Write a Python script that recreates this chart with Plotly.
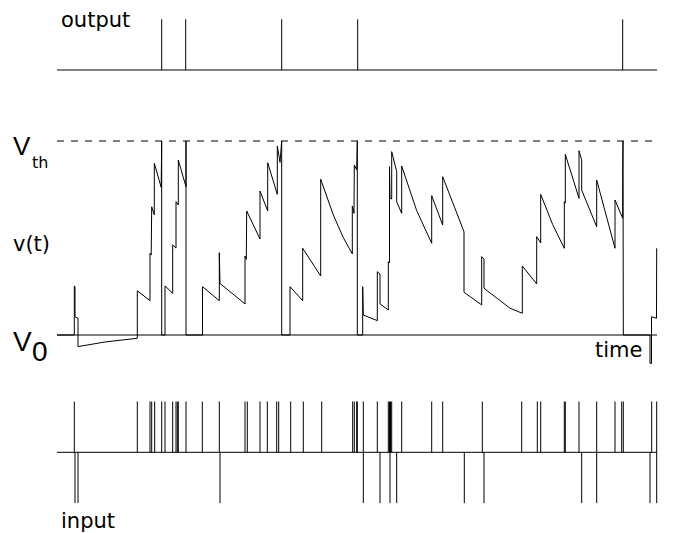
import plotly.graph_objects as go

# ---------------- data ----------------
# membrane potential trace: time (arbitrary units) and v (V0 = 0, Vth = 1)
trace_t = [0, 17.3, 17.3, 18.0, 18.0, 21.0, 21.0, 48.0, 80.3, 80.3, 93.0, 93.0, 94.2, 94.7,
           97.3, 97.3, 104.2, 104.7, 104.7, 108.0, 108.0, 115.7, 115.7, 119.0, 119.0, 121.3,
           121.3, 129.0, 129.0, 129.0, 145.5, 145.5, 162.3, 162.3, 163.0, 163.0, 188.0, 188.0,
           189.3, 189.7, 203.0, 203.0, 210.7, 210.7, 220.3, 220.3, 223.0, 224.7, 224.7, 233.0,
           233.0, 245.7, 245.7, 263.7, 263.7, 276.3, 286.3, 295.3, 295.3, 297.0, 297.3, 299.7,
           300.3, 300.3, 305.7, 305.7, 306.3, 306.3, 320.3, 320.3, 323.0, 323.0, 331.3, 331.3,
           332.5, 332.5, 333.0, 333.0, 334.7, 334.7, 339.7, 339.7, 344.7, 344.7, 359.7, 374.7,
           374.7, 385.7, 385.7, 407.0, 407.0, 424.7, 424.7, 426.3, 427.0, 427.0, 453.0, 465.3,
           465.3, 479.7, 479.7, 483.7, 483.7, 495.7, 507.3, 507.3, 508.3, 508.3, 522.0, 522.0,
           524.7, 524.7, 539.7, 539.7, 558.0, 558.0, 565.7, 565.7, 566.0, 566.3, 593.0, 593.0,
           594.5, 594.5, 599.5, 599.7]
trace_v = [0, 0, 0.253, 0.247, 0.094, 0.086, -0.060, -0.036, -0.017, 0.228, 0.177, 0.421, 0.412,
           0.661, 0.619, 0.885, 0.761, 1.0, 0, 0, 0.253, 0.215, 0.464, 0.448, 0.687, 0.670,
           0.902, 0.764, 1.0, 0, 0, 0.249, 0.177, 0.424, 0.423, 0.266, 0.160, 0.407,
           0.390, 0.639, 0.495, 0.742, 0.639, 0.888, 0.725, 0.974, 0.890, 1.0, 0, 0,
           0.249, 0.177, 0.447, 0.304, 0.803, 0.619, 0.502, 0.418, 0.665, 0.627, 0.876, 0.851,
           1.0, 0, 0, 0.249, 0.247, 0.103, 0.074, 0.326, 0.314, 0.160, 0.129, 0.378,
           0.371, 0.868, 0.861, 0.705, 0.701, 0.945, 0.842, 0.687, 0.627, 0.871, 0.641, 0.473,
           0.718, 0.567, 0.816, 0.532, 0.220, 0.155, 0.404, 0.395, 0.392, 0.241, 0.138, 0.112,
           0.356, 0.263, 0.507, 0.474, 0.725, 0.569, 0.447, 0.687, 0.680, 0.931, 0.705, 0.950,
           0.902, 0.747, 0.558, 0.799, 0.447, 0.696, 0.602, 0.851, 1.0, 0, 0, -0.146,
           -0.146, 0.094, 0.086, 0.447]

# output spike times
output_times = [104.7, 128.7, 224.7, 300.7, 565.7]

# excitatory (upward) and inhibitory (downward) input spike times
exc_times = [17.3, 80.3, 93.0, 94.7, 97.7, 104.7, 108.0, 115.7, 119.0, 120.3, 121.3, 129.0,
             145.3, 162.3, 188.0, 190.3, 203.0, 210.3, 219.7, 221.7, 233.7, 246.3, 264.7,
             295.7, 297.3, 299.7, 300.3, 306.3, 320.3, 331.3, 332.5, 333.5, 334.7, 344.7,
             374.7, 385.7, 425.3, 464.7, 480.3, 483.7, 507.3, 508.3, 522.0, 539.7, 558.0,
             564.7, 566.3, 594.7, 599.7]
inh_times = [18.0, 21.0, 163.0, 306.3, 323.0, 333.0, 339.7, 407.3, 427.0, 524.7, 539.7,
             593.0, 599.7]

T_START, T_END = 0, 600
V0, VTH = 0, 1

# ---------------- layout geometry (pixels) ----------------
W, H = 675, 533
X0_PX = 57           # pixel of t = 0 (1 px per time unit)
V0_PX, VTH_PX = 335, 141
OUT_BASE_PX, OUT_TOP_PX = 70, 19.3
IN_BASE_PX, IN_UNIT_PX = 452.3, 50.8


def yrange(base_px, unit_px):
    return [-(H - base_px) / unit_px, base_px / unit_px]


def spikes(times, height):
    xs, ys = [], []
    for t in times:
        xs += [t, t, None]
        ys += [0, height, None]
    return xs, ys


line = dict(color="black", width=1)
fig = go.Figure()

# output panel
fig.add_trace(go.Scatter(x=[T_START, T_END], y=[0, 0], mode="lines", line=line, yaxis="y2"))
ox, oy = spikes(output_times, 1)
fig.add_trace(go.Scatter(x=ox, y=oy, mode="lines", line=line, yaxis="y2"))

# voltage panel
fig.add_trace(go.Scatter(x=[T_START, T_END], y=[VTH, VTH], mode="lines",
                         line=dict(color="black", width=1, dash="7px,7px")))
fig.add_trace(go.Scatter(x=[T_START, T_END], y=[V0, V0], mode="lines", line=line))
fig.add_trace(go.Scatter(x=trace_t, y=trace_v, mode="lines", line=line))

# input panel
fig.add_trace(go.Scatter(x=[T_START, T_END], y=[0, 0], mode="lines", line=line, yaxis="y3"))
ex, ey = spikes(exc_times, 1)
fig.add_trace(go.Scatter(x=ex, y=ey, mode="lines", line=line, yaxis="y3"))
ix, iy = spikes(inh_times, -1)
fig.add_trace(go.Scatter(x=ix, y=iy, mode="lines", line=line, yaxis="y3"))

fig.update_traces(hoverinfo="skip", showlegend=False)

ax = dict(visible=False, domain=[0, 1], fixedrange=True)
fig.update_layout(
    width=W, height=H,
    margin=dict(l=0, r=0, t=0, b=0),
    paper_bgcolor="white", plot_bgcolor="white",
    xaxis=dict(ax, range=[-X0_PX, W - X0_PX]),
    yaxis=dict(ax, range=yrange(V0_PX, V0_PX - VTH_PX)),
    yaxis2=dict(ax, range=yrange(OUT_BASE_PX, OUT_BASE_PX - OUT_TOP_PX), overlaying="y"),
    yaxis3=dict(ax, range=yrange(IN_BASE_PX, IN_UNIT_PX), overlaying="y"),
)

SANS = "DejaVu Sans"
NARROW = "Liberation Sans Narrow, Liberation Sans, Arial"


def label(text, x_px, y_px, size, family=SANS, xanchor="left"):
    fig.add_annotation(text=text, xref="paper", yref="paper",
                       x=x_px / W, y=1 - y_px / H, xanchor=xanchor, yanchor="middle",
                       showarrow=False, borderpad=0,
                       font=dict(family=family, size=size, color="black"))


label("output", 60, 19.7, 21)
label("input", 60, 521.4, 21)
label("time", 643, 350.4, 21, xanchor="right")
label("v(t)", 12, 244.3, 21)
label("V", 12, 145.5, 26, NARROW)
label("th", 31, 162.2, 16)
label("V", 12, 341.6, 28, NARROW)
label("0", 31, 351.6, 28, NARROW)

fig.write_html("out.html", config={"displayModeBar": False},
               post_script="document.body.style.margin='0px';"
                           "document.body.style.overflow='hidden';")
